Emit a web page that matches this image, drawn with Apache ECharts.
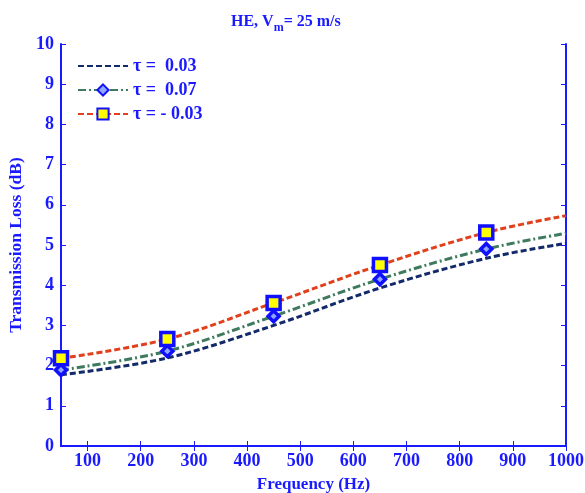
<!DOCTYPE html>
<html><head><meta charset="utf-8">
<script src="https://cdn.jsdelivr.net/npm/echarts@6/dist/echarts.min.js"></script>
<style>html,body{margin:0;padding:0;background:#fff}#c{width:585px;height:493px}</style>
</head><body><div id="c"></div>
<script>
const freqs = [50, 250, 450, 650, 850, 1000];
const tl_003 = [1.77, 2.19, 3.00, 3.93, 4.67, 5.04];
const tl_007 = [1.89, 2.36, 3.23, 4.15, 4.90, 5.29];
const tl_m003 = [2.18, 2.66, 3.56, 4.50, 5.31, 5.73];
const seriesNames = ['τ =  0.03', 'τ =  0.07', 'τ = - 0.03'];
const xTicks = [100, 200, 300, 400, 500, 600, 700, 800, 900, 1000];
const yTicks = [0,1,2,3,4,5,6,7,8,9,10];

const BLUE = '#1a1aff';
const FONT = 'Liberation Serif';
function pts(arr, marker) {
  return freqs.map((f, i) => (marker && f !== 1000) ? [f, arr[i]] : {value: [f, arr[i]], symbol: 'none'});
}
const chart = echarts.init(document.getElementById('c'));
const axCommon = {
  axisLine: {show: true, lineStyle: {color: BLUE, width: 2}},
  splitLine: {show: false},
  axisTick: {inside: true, length: 5, lineStyle: {color: BLUE, width: 1}},
};
chart.setOption({
  animation: false,
  backgroundColor: '#fff',
  title: {
    text: '{a|HE, V}{s|m}{a|= 25 m/s}', left: 226, top: 5,
    textStyle: {rich: {
      a: {fontFamily: FONT, fontWeight: 'bold', fontSize: 16, color: BLUE},
      s: {fontFamily: FONT, fontWeight: 'bold', fontSize: 12, color: BLUE, padding: [12, 0, 0, 0]}
    }}
  },
  legend: {
    left: 72, top: 52, orient: 'vertical', itemGap: 6, itemWidth: 50, itemHeight: 14,
    textStyle: {fontFamily: FONT, fontWeight: 'bold', fontSize: 18, color: BLUE},
    data: seriesNames
  },
  grid: {left: 61, right: 19, top: 44, bottom: 47, containLabel: false, outerBoundsMode: 'none'},
  xAxis: [
    Object.assign({}, axCommon, {
      type: 'value', min: 50, max: 1000, position: 'bottom',
      name: 'Frequency (Hz)', nameLocation: 'middle', nameGap: 30,
      nameTextStyle: {fontFamily: FONT, fontWeight: 'bold', fontSize: 17, color: BLUE},
      axisTick: {inside: true, length: 5, lineStyle: {color: BLUE}, customValues: xTicks},
      axisLabel: {customValues: xTicks, formatter: v => String(v), fontFamily: FONT, fontWeight: 'bold', fontSize: 18, color: BLUE, margin: 6}
    }),
    Object.assign({}, axCommon, {
      type: 'value', min: 50, max: 1000, position: 'top',
      axisTick: {inside: true, length: 5, lineStyle: {color: BLUE}, customValues: xTicks},
      axisLabel: {show: false}
    })
  ],
  yAxis: [
    Object.assign({}, axCommon, {
      type: 'value', min: 0, max: 10, interval: 1, position: 'left',
      name: 'Transmission Loss (dB)', nameLocation: 'middle', nameGap: 36,
      nameTextStyle: {fontFamily: FONT, fontWeight: 'bold', fontSize: 17.5, color: BLUE},
      axisLabel: {fontFamily: FONT, fontWeight: 'bold', fontSize: 18, color: BLUE, margin: 7}
    }),
    Object.assign({}, axCommon, {
      type: 'value', min: 0, max: 10, interval: 1, position: 'right',
      axisLabel: {show: false}
    })
  ],
  series: [
    {name: seriesNames[0], type: 'line', smooth: 0.35, data: pts(tl_003, false), symbol: 'none',
     lineStyle: {color: '#12296a', width: 3, type: [6, 3]}, itemStyle: {color: 'rgba(0,0,0,0)', borderWidth: 0}, z: 3},
    {name: seriesNames[1], type: 'line', smooth: 0.35, data: pts(tl_007, true), symbol: 'diamond', symbolSize: 11,
     lineStyle: {color: '#3e7a5e', width: 3, type: [8, 3, 2, 3]},
     itemStyle: {color: '#8fa8ff', borderColor: '#1010ff', borderWidth: 3.5}, z: 4},
    {name: seriesNames[2], type: 'line', smooth: 0.35, data: pts(tl_m003, true), symbol: 'rect', symbolSize: 13,
     lineStyle: {color: '#e0401c', width: 3, type: [6, 3]},
     itemStyle: {color: '#ffff00', borderColor: '#1010ff', borderWidth: 3.5}, z: 5}
  ]
});
</script></body></html>
